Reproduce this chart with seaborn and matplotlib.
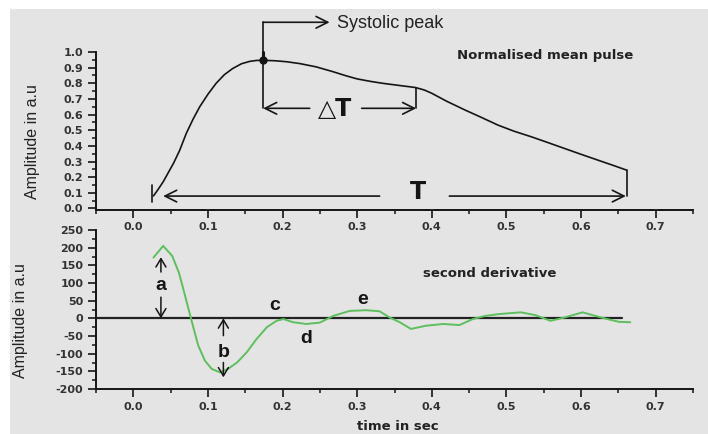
import numpy as np
import pandas as pd
import matplotlib
matplotlib.use("Agg")
import matplotlib.pyplot as plt
import seaborn as sns
from matplotlib.patches import Rectangle
from matplotlib.ticker import MultipleLocator

# ---------------- data ----------------
pulse_t = [0.027, 0.033, 0.040, 0.047, 0.054, 0.062, 0.071, 0.080, 0.089, 0.100,
           0.111, 0.122, 0.133, 0.145, 0.156, 0.165, 0.174, 0.190, 0.205, 0.223,
           0.245, 0.267, 0.285, 0.300, 0.318, 0.334, 0.355, 0.378, 0.390, 0.400,
           0.420, 0.445, 0.465, 0.489, 0.510, 0.534, 0.555, 0.578, 0.600, 0.623,
           0.642, 0.661]
pulse_amp = [0.08, 0.12, 0.17, 0.23, 0.29, 0.37, 0.48, 0.57, 0.65, 0.73,
             0.80, 0.855, 0.894, 0.925, 0.940, 0.946, 0.947, 0.944, 0.938, 0.926,
             0.905, 0.875, 0.848, 0.828, 0.812, 0.800, 0.787, 0.773, 0.757, 0.736,
             0.685, 0.628, 0.585, 0.532, 0.494, 0.457, 0.422, 0.383, 0.346, 0.308,
             0.277, 0.245]

deriv_t = [0.027, 0.040, 0.052, 0.061, 0.067, 0.074, 0.081, 0.087, 0.096, 0.105,
           0.116, 0.127, 0.139, 0.152, 0.165, 0.179, 0.192, 0.201, 0.214, 0.232,
           0.250, 0.268, 0.290, 0.312, 0.330, 0.343, 0.357, 0.372, 0.392, 0.415,
           0.437, 0.455, 0.472, 0.490, 0.519, 0.539, 0.559, 0.579, 0.602, 0.619,
           0.635, 0.651, 0.666]
deriv_amp = [172, 205, 177, 130, 83, 26, -30, -77, -120, -143,
             -153, -143, -125, -96, -59, -25, -7, -2, -11, -16,
             -12, 7, 21, 23, 20, 3, -11, -30, -21, -16,
             -19, -2, 7, 12, 17, 9, -7, 3, 17, 7,
             -2, -10, -11]

baseline_t = [-0.05, 0.655]
baseline_amp = [0, 0]

top_yticks = [0.0, 0.1, 0.2, 0.3, 0.4, 0.5, 0.6, 0.7, 0.8, 0.9, 1.0]
bottom_yticks = [-200, -150, -100, -50, 0, 50, 100, 150, 200, 250]
xticks = [0.0, 0.1, 0.2, 0.3, 0.4, 0.5, 0.6, 0.7]

pulse_df = pd.DataFrame({"t": pulse_t, "amp": pulse_amp})
deriv_df = pd.DataFrame({"t": deriv_t, "amp": deriv_amp})
base_df = pd.DataFrame({"t": baseline_t, "amp": baseline_amp})

# ---------------- style ----------------
sns.set_theme(style="ticks")
plt.rcParams["font.family"] = ["DejaVu Sans"]

W, H = 708, 434
fig = plt.figure(figsize=(W / 100, H / 100), dpi=100)
fig.patch.set_facecolor("white")
fig.add_artist(Rectangle((10 / W, 0), 1 - 10 / W, (H - 9) / H,
                         transform=fig.transFigure, facecolor="#e4e4e4",
                         edgecolor="none", zorder=-10))

def fx(px):
    return px / W

def fy(py):
    return (H - py) / H

ax1 = fig.add_axes([fx(96), fy(210), fx(693) - fx(96), fy(52) - fy(210)])
ax2 = fig.add_axes([fx(96), fy(389), fx(693) - fx(96), fy(230) - fy(389)])

ink = "#151515"
tickc = "#333333"

for ax in (ax1, ax2):
    ax.set_facecolor("none")
    for s in ("top", "right"):
        ax.spines[s].set_visible(False)
    for s in ("left", "bottom"):
        ax.spines[s].set_linewidth(1.4)
        ax.spines[s].set_color(ink)
    ax.set_xlim(-0.05, 0.75)
    ax.set_xticks(xticks)
    ax.xaxis.set_minor_locator(MultipleLocator(0.05))
    ax.tick_params(which="major", direction="out", length=6, width=1.2,
                   color=ink, labelsize=8, labelcolor=tickc, pad=3)
    ax.tick_params(which="minor", direction="out", length=3, width=1.1, color=ink)
    ax.set_xticklabels([f"{v:.1f}" for v in xticks], fontweight="bold")

# ---- top panel ----
sns.lineplot(data=pulse_df, x="t", y="amp", ax=ax1, color=ink, lw=1.2)
ax1.set_ylim(-0.01, 1.0)
ax1.set_yticks(top_yticks)
ax1.set_yticklabels([f"{v:.1f}" for v in top_yticks], fontweight="bold")
ax1.yaxis.set_minor_locator(MultipleLocator(0.05))
ax1.set_xlabel("")
ax1.set_ylabel("Amplitude in a.u", family="Liberation Sans", fontsize=11.5, color="#222222")
ax1.yaxis.set_label_coords(-0.094, 0.434)

ax1.plot([0.174], [0.947], "o", color=ink, ms=5, zorder=5)
lkw = dict(color=ink, lw=1.2, clip_on=False)
ax1.plot([0.174, 0.174], [1.19, 0.64], **lkw)
ax1.plot([0.174, 0.174], [0.945, 1.0], color=ink, lw=2.2, clip_on=False)
akw = dict(arrowstyle="->,head_length=0.7,head_width=0.35", color=ink, lw=1.2,
           shrinkA=0, shrinkB=0)
ax1.annotate("", xy=(0.263, 1.19), xytext=(0.174, 1.19), arrowprops=akw, annotation_clip=False)
ax1.text(0.2725, 1.185, "Systolic peak", family="Liberation Sans", fontsize=13,
         color="#222222", va="center", ha="left", clip_on=False)
ax1.text(0.67, 0.98, "Normalised mean pulse", fontsize=9.5, fontweight="bold",
         color="#222222", ha="right", va="center")

# delta T
ax1.annotate("", xy=(0.174, 0.64), xytext=(0.2364, 0.64), arrowprops=akw)
ax1.annotate("", xy=(0.379, 0.64), xytext=(0.306, 0.64), arrowprops=akw)
ax1.plot([0.379, 0.379], [0.64, 0.77], **lkw)
ax1.text(0.271, 0.635, "\u25b3T", fontsize=17, fontweight="bold", color=ink,
         ha="center", va="center")

# T
ax1.plot([0.0254, 0.0254], [0.04, 0.15], **lkw)
ax1.plot([0.661, 0.661], [0.079, 0.245], **lkw)
ax1.annotate("", xy=(0.04, 0.079), xytext=(0.33, 0.079), arrowprops=akw)
ax1.annotate("", xy=(0.66, 0.079), xytext=(0.4235, 0.079), arrowprops=akw)
ax1.text(0.381, 0.105, "T", fontsize=17, fontweight="bold", color=ink,
         ha="center", va="center")

# ---- bottom panel ----
sns.lineplot(data=base_df, x="t", y="amp", ax=ax2, color="#222222", lw=1.6)
sns.lineplot(data=deriv_df, x="t", y="amp", ax=ax2, color="#5dbf5d", lw=1.4)
ax2.set_ylim(-200, 250)
ax2.set_yticks(bottom_yticks)
ax2.set_yticklabels([str(v) for v in bottom_yticks], fontweight="bold")
ax2.yaxis.set_minor_locator(MultipleLocator(25))
ax2.set_xlabel("")
ax2.set_ylabel("Amplitude in a.u", family="Liberation Sans", fontsize=11.5, color="#222222")
ax2.yaxis.set_label_coords(-0.114, 0.428)

ax2.text(0.477, 128, "second derivative", fontsize=9.5, fontweight="bold",
         color="#222222", ha="center", va="center")

ak2 = dict(arrowstyle="->,head_length=0.5,head_width=0.3", color=ink, lw=1.1,
           shrinkA=0, shrinkB=0)
ax2.annotate("", xy=(0.037, 173), xytext=(0.037, 131), arrowprops=ak2)
ax2.annotate("", xy=(0.037, 0), xytext=(0.037, 60), arrowprops=ak2)
ax2.annotate("", xy=(0.1207, 0), xytext=(0.1207, -49), arrowprops=ak2)
ax2.annotate("", xy=(0.1207, -167), xytext=(0.1207, -125), arrowprops=ak2)
lab = dict(fontsize=14, fontweight="bold", color=ink, ha="center", va="center",
           family="Liberation Sans")
ax2.text(0.037, 92, "a", **lab)
ax2.text(0.1207, -96, "b", **lab)
ax2.text(0.19, 37, "c", **lab)
ax2.text(0.2317, -58, "d", **lab)
ax2.text(0.307, 54, "e", **lab)

fig.text(fx(398), fy(426), "time in sec", fontsize=9.5, fontweight="bold",
         color="#222222", ha="center", va="center")

fig.savefig("out.png", dpi=100, facecolor=fig.get_facecolor())
